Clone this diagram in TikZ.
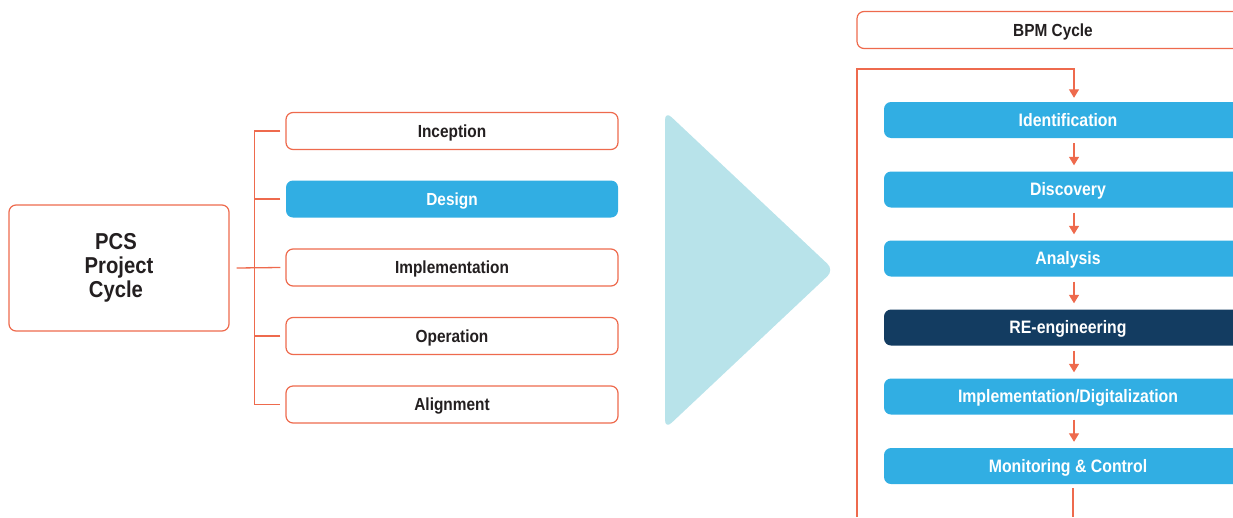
\documentclass[tikz,border=0pt]{standalone}
\usepackage{fontspec}
\setmainfont{Liberation Sans}[FakeStretch=0.88]
\usetikzlibrary{arrows.meta}
\definecolor{orng}{HTML}{EE6A4D}
\definecolor{blu}{HTML}{31AEE3}
\definecolor{navy}{HTML}{133C61}
\definecolor{tri}{HTML}{B8E3EA}
\definecolor{txt}{HTML}{231F20}
\begin{document}
\begin{tikzpicture}[x=1pt,y=-1pt,
  obox/.style={draw=orng, line width=1.2pt, rounded corners=7pt, fill=white,
    minimum width=332pt, minimum height=37pt, inner sep=0pt, text height=12.5pt, text depth=0pt,
    font=\bfseries\fontsize{17.5}{20}\selectfont, text=txt},
  bbox/.style={fill=blu, rounded corners=7pt, minimum width=368pt, minimum height=36pt,
    inner sep=0pt, text height=12.9pt, text depth=0pt,
    font=\bfseries\fontsize{18}{21}\selectfont, text=white},
  conn/.style={draw=orng, line width=1.3pt},
  arr/.style={conn, -{Triangle[length=8.5pt,width=10pt]}}]
\useasboundingbox (0,0) rectangle (1233,517);
\clip (0,0) rectangle (1233,517);

% left part
\node[draw=orng, line width=1.2pt, rounded corners=7pt, fill=white, text=txt,
  minimum width=220pt, minimum height=126pt, align=center, inner sep=0pt,
  font=\bfseries\fontsize{23}{24}\selectfont] (pcs) at (119,268)
  {PCS\hspace*{6pt}\\Project\hspace*{4pt}\\Cycle\hspace*{6pt}};
\node[obox] (inc) at (452,131) {Inception};
\node[obox, fill=blu, draw=none, text=white] (des) at (452,199) {Design};
\node[obox] (imp) at (452,267.5) {Implementation};
\node[obox] (ope) at (452,336) {Operation};
\node[obox] (ali) at (452,404.5) {Alignment};

\draw[conn] ([xshift=7pt]pcs.east) -- ([xshift=-5pt]imp.west);
\draw[conn] ([xshift=-5pt]inc.west) -- ++(-26,0) |- ([xshift=-5pt]ali.west);
\draw[conn] ([xshift=-5pt]des.west) -- ++(-26,0);
\draw[conn] ([xshift=-5pt]ope.west) -- ++(-26,0);

% triangle
\fill[tri, rounded corners=9pt] (665,270) -- (665,111) -- (834,270) -- (665,429) -- cycle;

% right part
\node[obox, minimum width=392pt] (bpm) at (1053,30) {BPM Cycle};
\node[bbox] (idf) at (1068,120) {Identification};
\node[bbox] (dis) at (1068,189.5) {Discovery};
\node[bbox] (ana) at (1068,258.5) {Analysis};
\node[bbox, fill=navy] (ree) at (1068,327.5) {RE-engineering};
\node[bbox] (imd) at (1068,396.5) {Implementation/Digitalization};
\node[bbox] (mon) at (1068,466) {Monitoring \& Control};

\coordinate (bl) at (857,517);
\coordinate (bm) at (1073,517);
\coordinate (tp) at (1074,69);
\draw[arr, shorten >=4pt] (bl) |- (tp) -- ([xshift=6pt]idf.north);
\foreach \a/\b in {idf/dis, dis/ana, ana/ree, ree/imd, imd/mon}
  \draw[arr, shorten <=5pt, shorten >=6pt] ([xshift=6pt]\a.south) -- ([xshift=6pt]\b.north);
\draw[conn, shorten <=4pt] ([xshift=5pt]mon.south) -- (bm);
\end{tikzpicture}
\end{document}
